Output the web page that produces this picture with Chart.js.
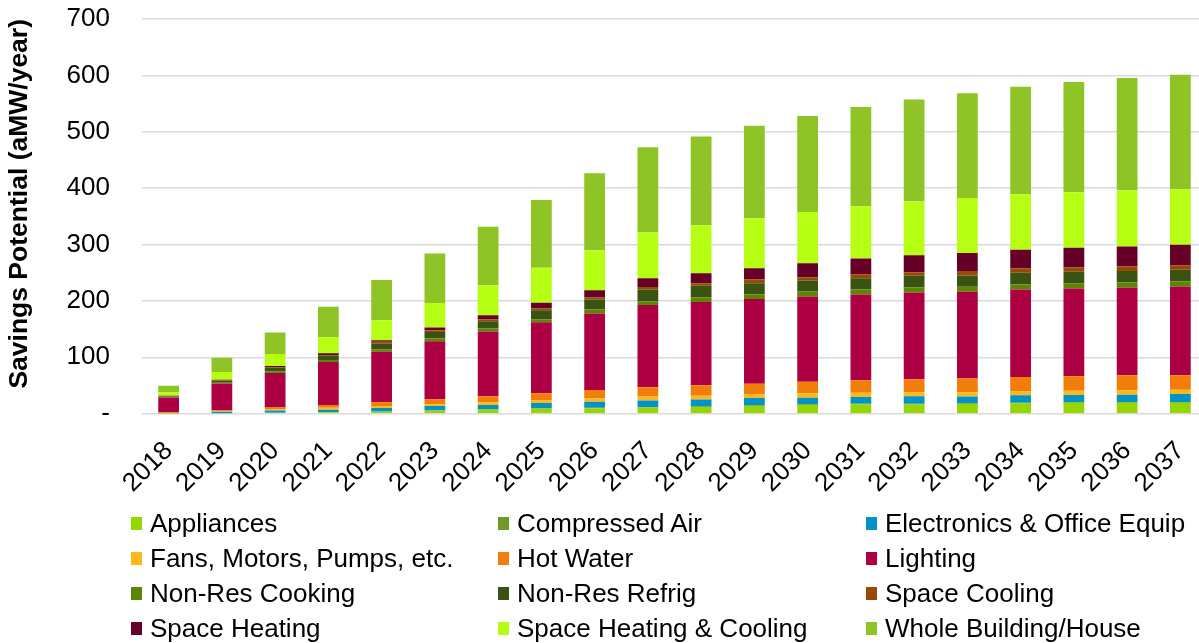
<!DOCTYPE html>
<html>
<head>
<meta charset="utf-8">
<script src="https://cdn.jsdelivr.net/npm/chart.js@4.4.1/dist/chart.umd.min.js"></script>
<style>
  html, body { margin: 0; padding: 0; background: #fff; overflow: hidden; width: 1199px; height: 643px; }
  #wrap { position: absolute; left: 0; top: 0; width: 1207px; height: 500px; }
  #legend { position: absolute; left: 0; top: 0; width: 1199px; height: 643px; pointer-events: none;
            font-family: "Liberation Sans", Arial, sans-serif; font-size: 26px; color: #000; }
  .li { position: absolute; white-space: nowrap; height: 35px; line-height: 35px; }
  .sw { position: absolute; left: 0; top: 11px; width: 11px; height: 13px; }
  .tx { position: absolute; left: 19px; top: 0; }
</style>
</head>
<body>
<div id="wrap"><canvas id="c" width="1207" height="500"></canvas></div>
<div id="legend"></div>
<script>
const years = ['2018','2019','2020','2021','2022','2023','2024','2025','2026','2027','2028','2029','2030','2031','2032','2033','2034','2035','2036','2037'];
const yTicks = [0,100,200,300,400,500,600,700];

const appliances     = [0.2, 0.8, 1.5, 2.6, 3.5, 5.3, 7.0, 8.7, 9.8, 10.8, 12.0, 13.7, 15.4, 16.6, 16.5, 17.1, 18.1, 19.2, 19.2, 19.2];
const compressedAir  = [0.1, 0.2, 0.3, 0.4, 0.5, 0.6, 0.7, 0.8, 0.9, 1.0, 1.0, 1.1, 1.2, 1.2, 1.3, 1.5, 1.4, 1.5, 1.5, 1.5];
const electronics    = [0.3, 2.4, 4.0, 4.1, 6.0, 7.7, 7.7, 9.5, 10.7, 11.8, 12.4, 13.0, 11.8, 11.8, 13.0, 11.8, 13.0, 12.4, 13.0, 14.2];
const fans           = [0.5, 1.0, 2.4, 3.5, 3.5, 3.0, 4.7, 4.7, 5.9, 7.1, 6.5, 6.5, 7.7, 7.7, 7.1, 7.7, 7.1, 7.7, 7.7, 7.7];
const hotWater       = [1.5, 1.8, 3.0, 4.7, 7.0, 8.9, 10.7, 12.4, 14.8, 16.0, 18.4, 18.9, 20.7, 21.9, 23.1, 24.3, 25.5, 25.5, 26.6, 25.5];
const lighting       = [26.0, 46.8, 61.0, 76.4, 89.4, 103.0, 114.9, 126.1, 135.6, 146.2, 148.0, 150.4, 151.0, 152.2, 153.9, 153.9, 155.1, 155.7, 155.7, 157.5];
const nonResCooking  = [0.8, 1.8, 3.0, 3.5, 4.0, 4.7, 5.3, 4.7, 7.1, 6.5, 7.7, 8.3, 9.5, 8.9, 8.9, 8.9, 8.9, 8.9, 8.9, 8.9];
const nonResRefrig   = [1.2, 3.0, 6.5, 7.7, 10.0, 11.8, 13.0, 16.6, 17.8, 20.7, 20.7, 19.5, 18.9, 20.1, 20.7, 20.1, 20.7, 20.7, 20.7, 20.7];
const spaceCooling   = [0.3, 1.0, 1.2, 1.0, 3.5, 3.0, 3.6, 3.6, 4.1, 4.7, 4.7, 6.5, 5.9, 6.5, 6.5, 7.7, 7.7, 7.7, 7.7, 7.7];
const spaceHeating   = [1.0, 1.5, 1.8, 3.5, 3.0, 4.7, 7.1, 9.5, 12.4, 15.4, 17.8, 20.1, 24.9, 28.4, 30.2, 32.0, 33.2, 34.9, 35.5, 36.7];
const spaceHeatCool  = [6.5, 13.6, 21.3, 28.4, 35.5, 43.8, 53.3, 62.2, 71.0, 81.1, 85.0, 88.6, 90.8, 92.6, 95.3, 97.4, 98.5, 98.6, 99.8, 98.5];
const wholeBuilding  = [11.0, 25.4, 37.9, 53.9, 71.0, 87.6, 103.6, 120.2, 136.2, 151.2, 157.4, 164.0, 170.0, 175.9, 180.6, 185.9, 190.7, 195.4, 199.0, 203.1];

const seriesNames = ['Appliances','Compressed Air','Electronics & Office Equip','Fans, Motors, Pumps, etc.','Hot Water','Lighting','Non-Res Cooking','Non-Res Refrig','Space Cooling','Space Heating','Space Heating & Cooling','Whole Building/House'];
const seriesData = [appliances, compressedAir, electronics, fans, hotWater, lighting, nonResCooking, nonResRefrig, spaceCooling, spaceHeating, spaceHeatCool, wholeBuilding];
const seriesColors = ['#95D600','#6F9A2A','#0093C8','#FFB71B','#F07E09','#AD0042','#5C8500','#3A5313','#984A02','#660029','#B6FF14','#8FC426'];

const FONT = '"Liberation Sans", Arial, sans-serif';

const datasets = seriesNames.map((n, i) => ({
  label: n,
  data: seriesData[i],
  backgroundColor: seriesColors[i],
  borderWidth: 0,
  barPercentage: 0.39,
  categoryPercentage: 1.0
}));

const chart = new Chart(document.getElementById('c'), {
  type: 'bar',
  data: { labels: years, datasets },
  options: {
    responsive: false,
    animation: false,
    layout: { padding: { top: 19, right: 0, bottom: 0, left: 0 } },
    plugins: { legend: { display: false }, tooltip: { enabled: false } },
    scales: {
      x: {
        stacked: true,
        grid: { display: false },
        border: { display: false },
        ticks: { color: '#000', font: { family: FONT, size: 26 }, maxRotation: 45, minRotation: 45, padding: 14, autoSkip: false },
        afterFit: (s) => { s.height = 500 - 413.7; s.paddingLeft = 0; s.paddingRight = 0; }
      },
      y: {
        stacked: true,
        min: 0, max: 700,
        afterBuildTicks: (s) => { s.ticks = yTicks.map(v => ({ value: v })); },
        grid: { color: '#D9D9D9', lineWidth: 1.5, drawTicks: false },
        border: { display: false },
        ticks: {
          color: '#000', font: { family: FONT, size: 26 }, padding: 32,
          callback: (v) => v === 0 ? '-' : String(v)
        },
        title: { display: true, text: 'Savings Potential (aMW/year)', color: '#000', align: 'end',
                 font: { family: FONT, size: 26.5, weight: 'bold' }, padding: { top: 4, bottom: 0 } },
        afterFit: (s) => { s.width = 142; s.paddingTop = 0; s.paddingBottom = 0; }
      }
    }
  }
});

// Legend (3 columns x 4 rows) built from chart datasets
const leg = document.getElementById('legend');
const colX = [131, 498, 866];
const rowY = [506, 541, 576, 611];
chart.data.datasets.forEach((ds, i) => {
  const r = Math.floor(i / 3), c = i % 3;
  const d = document.createElement('div');
  d.className = 'li';
  d.style.left = colX[c] + 'px';
  d.style.top = rowY[r] + 'px';
  const sw = document.createElement('div');
  sw.className = 'sw';
  sw.style.background = ds.backgroundColor;
  const tx = document.createElement('span');
  tx.className = 'tx';
  tx.textContent = ds.label;
  d.appendChild(sw); d.appendChild(tx);
  leg.appendChild(d);
});
</script>
</body>
</html>
